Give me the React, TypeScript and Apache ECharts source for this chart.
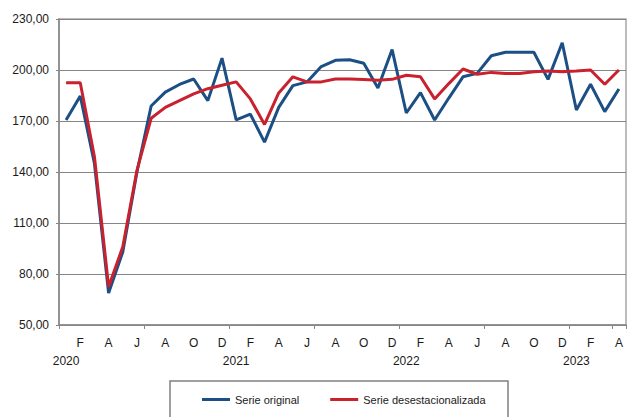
import React, { useEffect, useRef } from "react";
import * as echarts from "echarts";

const xLabels = [
  "\n2020", "F", "", "A", "", "J", "", "A", "", "O", "", "D",
  "\n2021", "F", "", "A", "", "J", "", "A", "", "O", "", "D",
  "\n2022", "F", "", "A", "", "J", "", "A", "", "O", "", "D",
  "\n2023", "F", "", "A",
];

const serieOriginal = [
  170.6, 184.7, 145, 68.8, 93, 140, 178.8, 187, 191.5, 194.7, 182, 207,
  170.6, 174, 157.6, 178, 190.8, 193, 202, 205.7, 206, 204, 189.4, 212,
  174.7, 186.7, 170.6, 183.5, 196, 198, 208.4, 210.4, 210.4, 210.4, 194.5, 216,
  176.5, 191.6, 175.5, 188.8,
];

const serieDesest = [
  192.5, 192.5, 149, 72.5, 96, 141, 171.6, 178, 182, 186, 189, 191,
  193, 183, 168, 186.5, 196, 193, 193, 194.7, 194.7, 194.4, 194, 194.5,
  196.9, 196, 183, 192, 200.6, 197.5, 198.6, 198, 198, 199, 199.4, 199,
  199.4, 200, 191.6, 200,
];

const FONT = "'Liberation Sans Narrow', 'Arial Narrow', 'Liberation Sans', sans-serif";

export default function App() {
  const ref = useRef<HTMLDivElement>(null);
  useEffect(() => {
    if (!ref.current) return;
    const chart = echarts.init(ref.current, undefined, { renderer: "svg" });
    chart.setOption({
      animation: false,
      backgroundColor: "#ffffff",
      textStyle: { fontFamily: FONT },
      grid: {
        left: 59,
        right: 7,
        top: 19,
        bottom: 92,
        show: true,
        borderColor: "#a6a6a6",
        borderWidth: 1.5,
        containLabel: false,
      },
      xAxis: {
        type: "category",
        data: xLabels,
        boundaryGap: true,
        axisLine: { show: true, lineStyle: { color: "#868686", width: 1.5 } },
        axisTick: { show: true, interval: 5, length: 4, lineStyle: { color: "#868686", width: 1 } },
        axisLabel: {
          interval: 0,
          color: "#1a1a1a",
          fontSize: 12,
          fontFamily: FONT,
          lineHeight: 18,
          margin: 9,
        },
        splitLine: { show: false },
      },
      yAxis: {
        type: "value",
        min: 50,
        max: 230,
        interval: 30,
        axisLine: { show: true, lineStyle: { color: "#868686", width: 1.5 } },
        axisTick: { show: true, length: 3, lineStyle: { color: "#868686" } },
        axisLabel: {
          color: "#1a1a1a",
          fontSize: 12,
          fontFamily: FONT,
          margin: 10,
          formatter: (v: number) => v.toFixed(2).replace(".", ","),
        },
        splitLine: { show: true, lineStyle: { color: "#868686", width: 1.2 } },
      },
      legend: {
        left: 197,
        top: 389,
        icon: "rect",
        itemWidth: 28,
        itemHeight: 3,
        itemGap: 31,
        textStyle: { fontSize: 11, color: "#1a1a1a", fontFamily: FONT },
        data: ["Serie original", "Serie desestacionalizada"],
      },
      graphic: [
        {
          type: "rect",
          shape: { x: 170, y: 381, width: 338, height: 60 },
          style: { fill: "none", stroke: "#808080", lineWidth: 1.5 },
          silent: true,
        },
      ],
      series: [
        {
          name: "Serie original",
          type: "line",
          data: serieOriginal,
          showSymbol: false,
          symbol: "none",
          lineStyle: { color: "#1c4f84", width: 3 },
          itemStyle: { color: "#1c4f84" },
          z: 2,
        },
        {
          name: "Serie desestacionalizada",
          type: "line",
          data: serieDesest,
          showSymbol: false,
          symbol: "none",
          lineStyle: { color: "#c9212e", width: 3 },
          itemStyle: { color: "#c9212e" },
          z: 3,
        },
      ],
    });
    return () => chart.dispose();
  }, []);
  return (
    <div
      ref={ref}
      style={{ position: "absolute", left: 0, top: 0, width: 633, height: 417 }}
    />
  );
}
